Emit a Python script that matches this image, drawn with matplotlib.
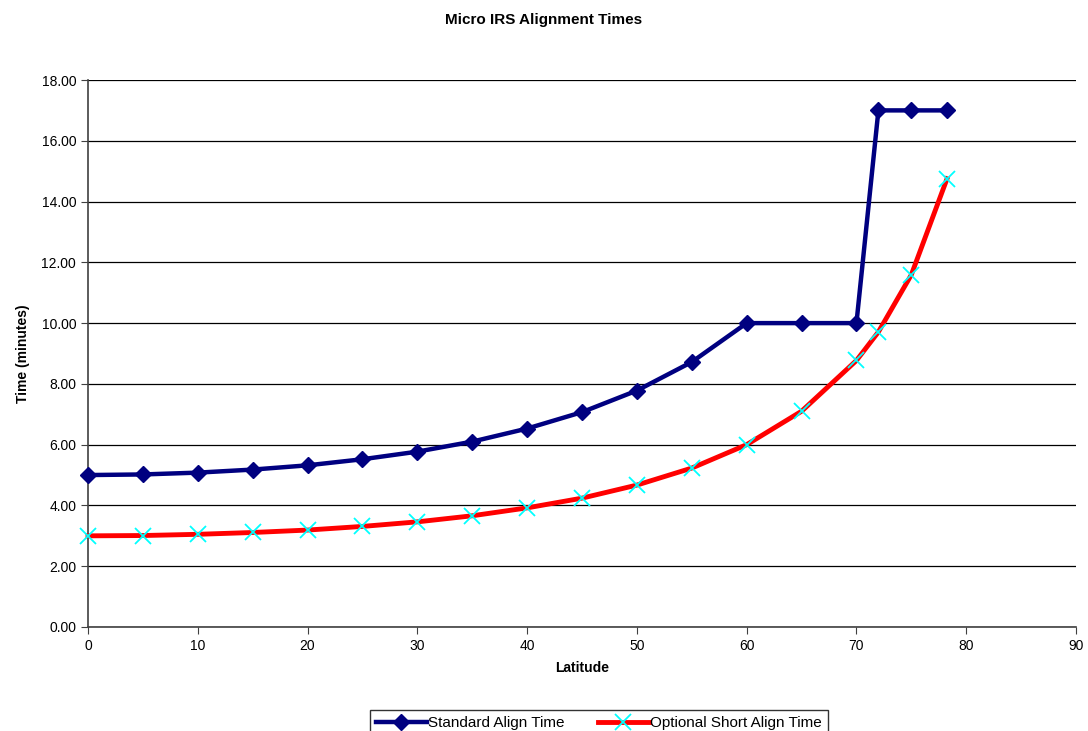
import matplotlib.pyplot as plt

plt.rcParams['font.family'] = ['Liberation Sans', 'DejaVu Sans']

latitude = [0, 5, 10, 15, 20, 25, 30, 35, 40, 45, 50, 55, 60, 65, 70, 72, 75, 78.25]
standard = [5.00, 5.02, 5.08, 5.18, 5.32, 5.52, 5.77, 6.10, 6.53, 7.07, 7.78, 8.72,
            10.00, 10.00, 10.00, 17.00, 17.00, 17.00]
short = [3.00, 3.01, 3.05, 3.11, 3.19, 3.31, 3.46, 3.66, 3.92, 4.24, 4.67, 5.23,
         6.00, 7.10, 8.77, 9.71, 11.59, 14.75]

fig = plt.figure(figsize=(10.88, 7.31), dpi=100)
ax = fig.add_axes([88 / 1088, 1 - 627 / 731, (1076 - 88) / 1088, (627 - 80) / 731])

ax.plot(latitude, standard, color='#000080', lw=3.2, marker='D', ms=8,
        label='Standard Align Time', zorder=3, clip_on=False)
ax.plot(latitude, short, color='#FF0000', lw=3.5, marker='x', ms=11, mew=1.3,
        mec='#00FFFF', label='Optional Short Align Time', zorder=3, clip_on=False)

ax.set_xlim(0, 90)
ax.set_ylim(0, 18)
ax.set_xticks(range(0, 91, 10))
ax.set_yticks(range(0, 19, 2))
ax.set_yticklabels([f'{v:.2f}' for v in range(0, 19, 2)])
ax.grid(axis='y', color='black', lw=0.9)
ax.set_axisbelow(True)
for s in ['top', 'right']:
    ax.spines[s].set_visible(False)
for s in ['left', 'bottom']:
    ax.spines[s].set_color('#404040')
    ax.spines[s].set_linewidth(1.2)
ax.tick_params(labelsize=10, length=5, direction='out', color='#404040')

ax.set_xlabel('Latitude', fontsize=10, fontweight='bold', labelpad=6)
ax.set_ylabel('Time (minutes)', fontsize=10, fontweight='bold', labelpad=8)
fig.text(0.5, 1 - 20 / 731, 'Micro IRS Alignment Times', ha='center', va='center',
         fontsize=11, fontweight='bold')

leg = fig.legend(loc='center', bbox_to_anchor=(599 / 1088, 1 - 723 / 731), ncol=2,
                 frameon=True, fancybox=False, edgecolor='black', fontsize=11,
                 handlelength=3.3, columnspacing=2.2, borderpad=0.4, handletextpad=0.1)
leg.get_frame().set_linewidth(1)

fig.savefig('out.png', dpi=100)
